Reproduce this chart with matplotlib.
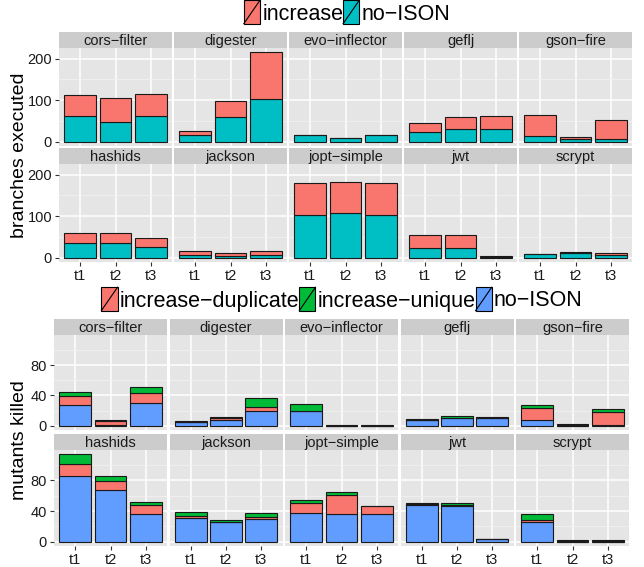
import matplotlib
matplotlib.use('Agg')
import matplotlib.pyplot as plt
from matplotlib.patches import Rectangle
from matplotlib.lines import Line2D
from matplotlib.legend_handler import HandlerBase
import numpy as np

plt.rcParams['font.family'] = ['Liberation Sans', 'DejaVu Sans']

projects = ['cors−filter', 'digester', 'evo−inflector', 'geflj', 'gson−fire',
            'hashids', 'jackson', 'jopt−simple', 'jwt', 'scrypt']
tests = ['t1', 't2', 't3']

# branches executed
branch_noison = [[62, 48, 62], [16, 60, 103], [17, 8, 17], [22, 30, 31], [13, 5, 5],
                 [36, 36, 26], [6, 4, 6], [103, 107, 103], [23, 23, 2], [8, 10, 6]]
branch_increase = [[51, 58, 53], [10, 39, 112], [0, 0, 0], [23, 30, 31], [50, 6, 47],
                   [24, 24, 20], [9, 7, 9], [77, 76, 77], [32, 32, 1], [1, 4, 4]]

# mutants killed
mut_noison = [[27, 1, 30], [5, 7, 19], [20, 0, 0], [8, 10, 10], [7, 0, 1],
              [86, 68, 36], [31, 25, 30], [37, 36, 36], [48, 47, 3], [25, 0, 0]]
mut_dup = [[12, 5, 13], [0, 3, 6], [0, 0, 0], [0, 0, 0], [17, 1, 17],
           [15, 11, 12], [2, 0, 2], [13, 25, 10], [1, 1, 0], [3, 1, 1]]
mut_unique = [[6, 1, 8], [1, 1, 11], [8, 1, 1], [1, 3, 2], [3, 1, 4],
              [13, 7, 4], [6, 3, 6], [4, 4, 1], [1, 3, 0], [8, 1, 1]]

RED = '#F8766D'
CYAN = '#00BFC4'
GREEN = '#00BA38'
BLUE = '#619CFF'

W, H = 644, 567
fig = plt.figure(figsize=(W / 100, H / 100), dpi=100)


class SlashKey(HandlerBase):
    def create_artists(self, legend, orig_handle, xdescent, ydescent,
                       width, height, fontsize, trans):
        x0, y0 = -xdescent, -ydescent - 3
        h = height + 6
        r = Rectangle((x0, y0), width, h, facecolor=orig_handle.get_facecolor(),
                      edgecolor='black', linewidth=0.8, transform=trans)
        l = Line2D([x0, x0 + width], [y0, y0 + h], color='black', linewidth=0.8,
                   transform=trans)
        return [r, l]


def px_axes(left, top, width, height):
    return fig.add_axes([left / W, 1 - (top + height) / H, width / W, height / H])


def draw_block(stacks, colors, labels, leg_colors, yticks, minor, x0, step, rows,
               ylabel, ylab_y, leg_x, leg_y):
    totals = np.sum(np.array(stacks), axis=0)
    top_val = totals.max()
    lo, hi = -0.05 * top_val, 1.05 * top_val
    for k, name in enumerate(projects):
        r, c = divmod(k, 5)
        strip_top, panel_top, panel_bot = rows[r]
        left = x0 + c * step
        # strip
        sax = px_axes(left, strip_top, 113, panel_top - strip_top)
        sax.set_facecolor('#CCCCCC')
        sax.set_xticks([])
        sax.set_yticks([])
        for s in sax.spines.values():
            s.set_visible(False)
        sax.text(0.5, 0.45, name, ha='center', va='center', fontsize=10.5,
                 color='#1A1A1A', transform=sax.transAxes)
        ax = px_axes(left, panel_top, 113, panel_bot - panel_top)
        ax.set_facecolor('#E5E5E5')
        for s in ax.spines.values():
            s.set_visible(False)
        x = np.arange(1, 4)
        bottom = np.zeros(3)
        for vals, col in zip(stacks, colors):
            v = np.array(vals[k], dtype=float)
            ax.bar(x, v, width=0.9, bottom=bottom, color=col, edgecolor='#1A1A1A',
                   linewidth=0.8, zorder=3)
            bottom += v
        ax.set_xlim(0.4, 3.6)
        ax.set_ylim(lo, hi)
        ax.set_yticks(yticks)
        ax.set_yticks(minor, minor=True)
        ax.set_xticks(x)
        ax.grid(which='major', color='white', linewidth=1.1, zorder=0)
        ax.grid(which='minor', axis='y', color='#F2F2F2', linewidth=0.6, zorder=0)
        ax.tick_params(which='minor', length=0)
        ax.tick_params(which='major', length=3, color='#333333', width=0.8,
                       labelsize=10.5, labelcolor='#1A1A1A', pad=2)
        if c == 0:
            ax.set_yticklabels([str(t) for t in yticks])
        else:
            ax.tick_params(axis='y', length=0, labelleft=False)
        if r == 1:
            ax.set_xticklabels(tests)
        else:
            ax.tick_params(axis='x', length=0, labelbottom=False)
    fig.text(20 / W, 1 - ylab_y / H, ylabel, rotation=90, ha='center',
             va='center', fontsize=14)
    handles = [Rectangle((0, 0), 1, 1, facecolor=col) for col in leg_colors]
    fig.legend(handles, labels, loc='center', ncol=len(labels),
               bbox_to_anchor=(leg_x / W, 1 - leg_y / H), frameon=False,
               fontsize=15.5, handler_map={Rectangle: SlashKey()},
               handlelength=0.75, handletextpad=0.1, columnspacing=0.0,
               borderpad=0, borderaxespad=0)


draw_block([branch_noison, branch_increase], [CYAN, RED],
           ['increase', 'no−ISON'], [RED, CYAN],
           [0, 100, 200], [50, 150], 59, 115,
           [(32, 48, 146), (148, 164, 262)], 'branches executed', 155, 347, 14)

draw_block([mut_noison, mut_dup, mut_unique], [BLUE, RED, GREEN],
           ['increase−duplicate', 'increase−unique', 'no−ISON'], [RED, GREEN, BLUE],
           [0, 40, 80], [20, 60, 100], 54, 115.5,
           [(319, 335, 430), (434, 450, 546)], 'mutants killed', 440, 342, 301)

fig.savefig('out.png', dpi=100)
